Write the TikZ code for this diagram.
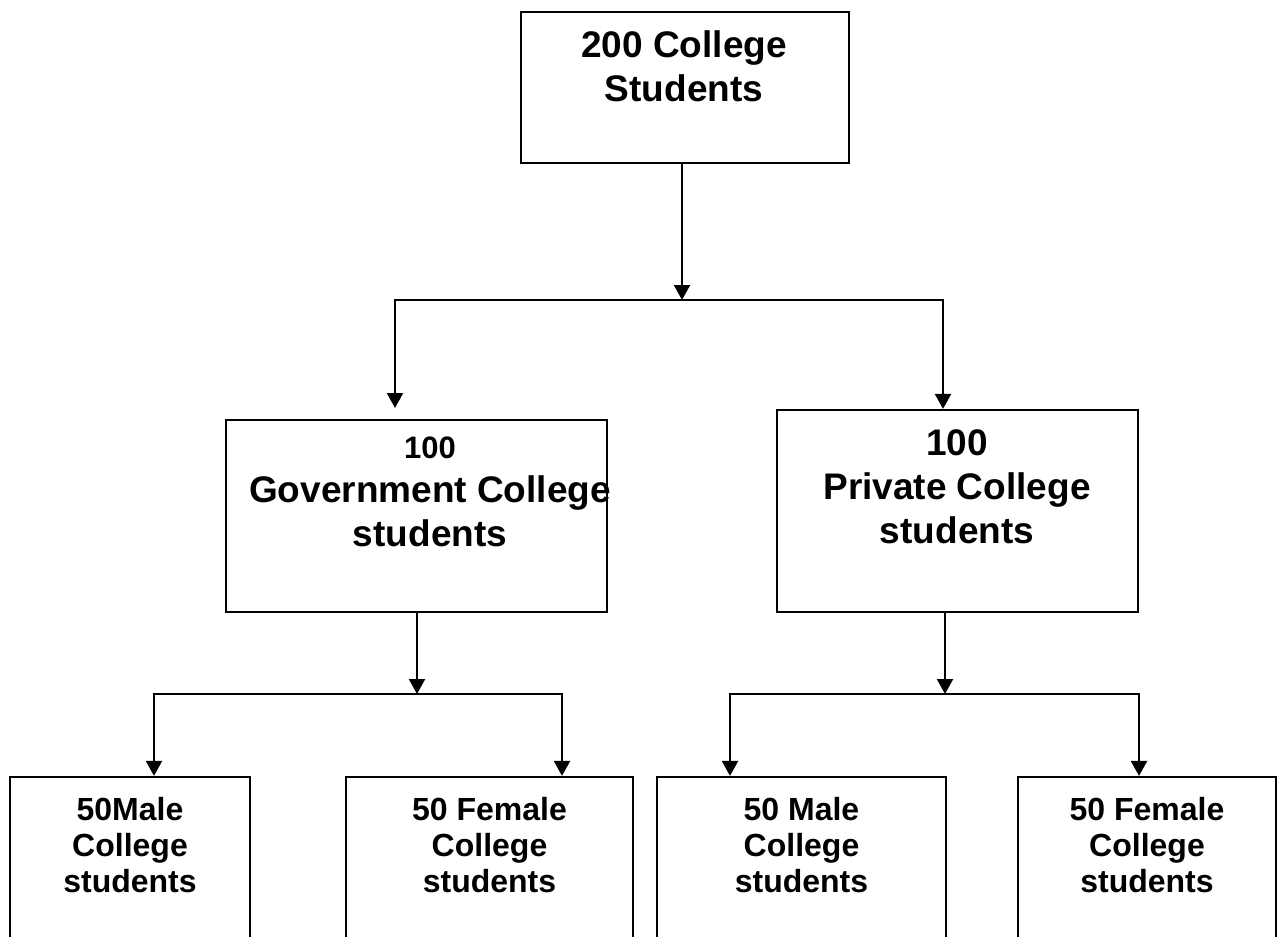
\documentclass[tikz,border=0pt]{standalone}
\usepackage{fontspec}
\setmainfont{Liberation Sans}
\usetikzlibrary{arrows.meta}
\begin{document}
\begin{tikzpicture}[x=1pt,y=-1pt,
  box/.style={draw=black, line width=2.2pt, rectangle, inner sep=0pt},
  lbl/.style={inner sep=0pt, align=center, font=\bfseries\fontsize{37}{44}\selectfont},
  lblsm/.style={inner sep=0pt, align=center, font=\bfseries\fontsize{32}{36}\selectfont},
  arr/.style={line width=2.2pt, line join=miter, -{Triangle[length=15pt,width=16pt]}}]
\useasboundingbox[fill=white] (0,0) rectangle (1278,937);
\clip (0,0) rectangle (1278,937);
% boxes
\node[box, minimum width=328pt, minimum height=151pt] (top) at (685,87.5) {};
\node[lbl] (toptext) at (684,66) {200 College\\Students};
\node[box, minimum width=381pt, minimum height=192pt] (gov) at (416.5,516) {};
\node[lbl] (govtext) at (430,492) {{\fontsize{31}{38}\selectfont 100}\\Government College\\students};
\node[box, minimum width=361pt, minimum height=202pt] (priv) at (957.5,511) {};
\node[lbl] (privtext) at (957,487) {100\\Private College\\students};
\node[box, minimum width=240pt, minimum height=183pt] (b1) at (130,868.5) {};
\node[lblsm] (b1text) at (130,845) {50Male\\College\\students};
\node[box, minimum width=287pt, minimum height=183pt] (b2) at (489.5,868.5) {};
\node[lblsm] (b2text) at (489.5,845) {50 Female\\College\\students};
\node[box, minimum width=289pt, minimum height=183pt] (b3) at (801.5,868.5) {};
\node[lblsm] (b3text) at (801.5,845) {50 Male\\College\\students};
\node[box, minimum width=258pt, minimum height=183pt] (b4) at (1147,868.5) {};
\node[lblsm] (b4text) at (1147,845) {50 Female\\College\\students};
% junction coordinates
\coordinate (j1) at (682,300);
\coordinate (gl) at (395,300);
\coordinate (pr) at (943,300);
\coordinate (gtip) at (395,408);
\coordinate (j2) at (417,694);
\coordinate (l1) at (154,694);
\coordinate (l2) at (562,694);
\coordinate (j3) at (945,694);
\coordinate (r1) at (730,694);
\coordinate (r2) at (1139,694);
% connectors
\draw[arr] (top.south -| j1) -- (j1);
\draw[arr] (pr) -- (gl) -- (gtip);
\draw[arr] (gl) -- (pr) -- (pr |- priv.north);
\draw[arr] (gov.south -| j2) -- (j2);
\draw[arr] (l2) -- (l1) -- (l1 |- b1.north);
\draw[arr] (l1) -- (l2) -- (l2 |- b2.north);
\draw[arr] (priv.south -| j3) -- (j3);
\draw[arr] (r2) -- (r1) -- (r1 |- b3.north);
\draw[arr] (r1) -- (r2) -- (r2 |- b4.north);
\end{tikzpicture}
\end{document}
